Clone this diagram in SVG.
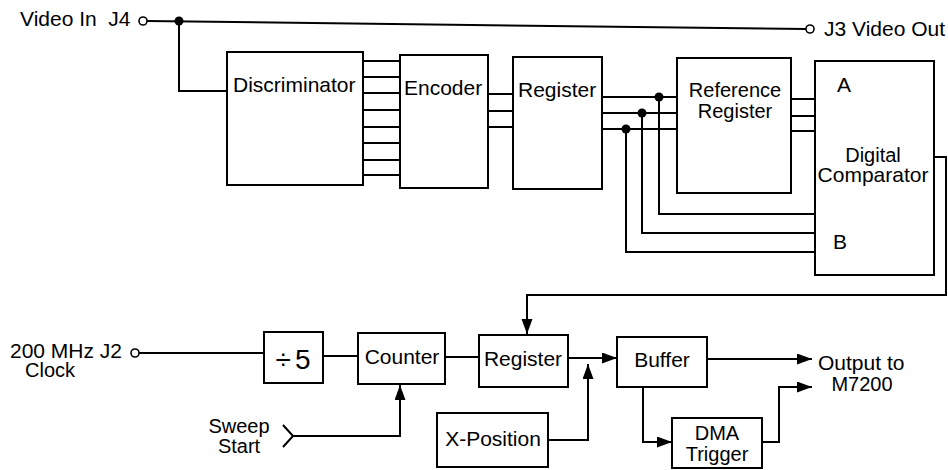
<svg xmlns="http://www.w3.org/2000/svg" width="948" height="470" viewBox="0 0 948 470">
<style>
.box{fill:#fff;stroke:#000;stroke-width:2}
.w{fill:none;stroke:#000;stroke-width:2}
.a{fill:none;stroke:#000;stroke-width:2;marker-end:url(#ah)}
text{font-family:"Liberation Sans",Arial,sans-serif;font-size:21px;fill:#000}
.m{text-anchor:middle}
.t{font-size:20px}
.oc{fill:#fff;stroke:#000;stroke-width:1.6}
</style>
<defs>
<marker id="ah" markerUnits="userSpaceOnUse" markerWidth="16" markerHeight="12" refX="15" refY="5.5" orient="auto">
<path d="M0,0 L15,5.5 L0,11 z" fill="#000"/>
</marker>
</defs>
<rect width="948" height="470" fill="#fff"/>

<g id="connectors">
<line class="w" x1="147" y1="21" x2="806" y2="29"/>
<polyline class="w" points="179,21 179,91 227,91"/>
<circle cx="179" cy="21" r="4.5" fill="#000"/>
<line class="w" x1="363" y1="61" x2="400" y2="61"/>
<line class="w" x1="363" y1="77" x2="400" y2="77"/>
<line class="w" x1="363" y1="93" x2="400" y2="93"/>
<line class="w" x1="363" y1="110" x2="400" y2="110"/>
<line class="w" x1="363" y1="127" x2="400" y2="127"/>
<line class="w" x1="363" y1="143" x2="400" y2="143"/>
<line class="w" x1="363" y1="160" x2="400" y2="160"/>
<line class="w" x1="363" y1="175" x2="400" y2="175"/>
<line class="w" x1="488" y1="94" x2="513" y2="94"/>
<line class="w" x1="488" y1="111" x2="513" y2="111"/>
<line class="w" x1="488" y1="127" x2="513" y2="127"/>
<line class="w" x1="602" y1="97" x2="677" y2="97"/>
<line class="w" x1="602" y1="113" x2="677" y2="113"/>
<line class="w" x1="602" y1="129" x2="677" y2="129"/>
<polyline class="w" points="659,97 659,214 815,214"/>
<polyline class="w" points="642,113 642,233 815,233"/>
<polyline class="w" points="626,129 626,252 815,252"/>
<circle cx="659" cy="97" r="4.5" fill="#000"/>
<circle cx="642" cy="113" r="4.5" fill="#000"/>
<circle cx="626" cy="129" r="4.5" fill="#000"/>
<line class="w" x1="791" y1="99" x2="815" y2="99"/>
<line class="w" x1="791" y1="116" x2="815" y2="116"/>
<line class="w" x1="791" y1="131" x2="815" y2="131"/>
<polyline class="a" points="934,157 946,157 946,295 527,295 527,334"/>
<line class="w" x1="139" y1="353" x2="264" y2="353"/>
<line class="w" x1="323" y1="356" x2="358" y2="356"/>
<line class="w" x1="445" y1="357" x2="479" y2="357"/>
<line class="a" x1="568" y1="358" x2="617" y2="358"/>
<polyline class="a" points="548,440 588,440 588,364"/>
<polyline class="a" points="293,436 400,436 400,385"/>
<line class="a" x1="707" y1="359" x2="812" y2="359"/>
<polyline class="a" points="643,387 643,442 672,442"/>
<polyline class="a" points="762,442 779,442 779,387 812,387"/>
</g>

<g id="video-in">
<text x="20" y="26" xml:space="preserve">Video In  J4</text>
<circle class="oc" cx="143" cy="21" r="4"/>
</g>
<g id="video-out">
<circle class="oc" cx="810" cy="29" r="4"/>
<text x="824" y="36">J3 Video Out</text>
</g>

<g id="discriminator">
<rect class="box" x="227" y="52" width="136" height="133"/>
<text x="233" y="92">Discriminator</text>
</g>
<g id="encoder">
<rect class="box" x="400" y="55" width="88" height="133"/>
<text x="404" y="95">Encoder</text>
</g>
<g id="register-top">
<rect class="box" x="513" y="57" width="89" height="132"/>
<text x="518" y="97">Register</text>
</g>
<g id="reference-register">
<rect class="box" x="677" y="58" width="114" height="135"/>
<text class="m t" x="735" y="97">Reference</text>
<text class="m t" x="735" y="118">Register</text>
</g>
<g id="digital-comparator">
<rect class="box" x="815" y="61" width="119" height="214"/>
<text x="837" y="92">A</text>
<text class="m t" x="873" y="162">Digital</text>
<text class="m" x="873" y="182">Comparator</text>
<text x="833" y="249">B</text>
</g>

<g id="clock-in">
<text x="10" y="358">200 MHz J2</text>
<text class="t" x="25" y="377">Clock</text>
<circle class="oc" cx="135" cy="353" r="4"/>
</g>
<g id="divide-by-5">
<rect class="box" x="264" y="332" width="59" height="51"/>
<text class="m" x="295" y="369" style="font-size:28px;letter-spacing:4px">÷5</text>
</g>
<g id="counter">
<rect class="box" x="358" y="333" width="87" height="51"/>
<text class="m" x="402" y="364">Counter</text>
</g>
<g id="register-bottom">
<rect class="box" x="479" y="335" width="89" height="52"/>
<text class="m" x="523" y="366">Register</text>
</g>
<g id="buffer">
<rect class="box" x="617" y="337" width="90" height="50"/>
<text class="m" x="662" y="367">Buffer</text>
</g>
<g id="x-position">
<rect class="box" x="437" y="413" width="111" height="54"/>
<text class="m" x="493" y="446">X-Position</text>
</g>
<g id="dma-trigger">
<rect class="box" x="672" y="418" width="90" height="50"/>
<text class="m t" x="717" y="440">DMA</text>
<text class="m t" x="717" y="461">Trigger</text>
</g>
<g id="sweep-start">
<text class="m t" x="239" y="433">Sweep</text>
<text class="m t" x="239" y="453">Start</text>
<polyline class="w" points="283,425 293,436 283,447"/>
</g>
<g id="output">
<text x="818" y="370">Output to</text>
<text class="m t" x="862" y="391">M7200</text>
</g>
</svg>
